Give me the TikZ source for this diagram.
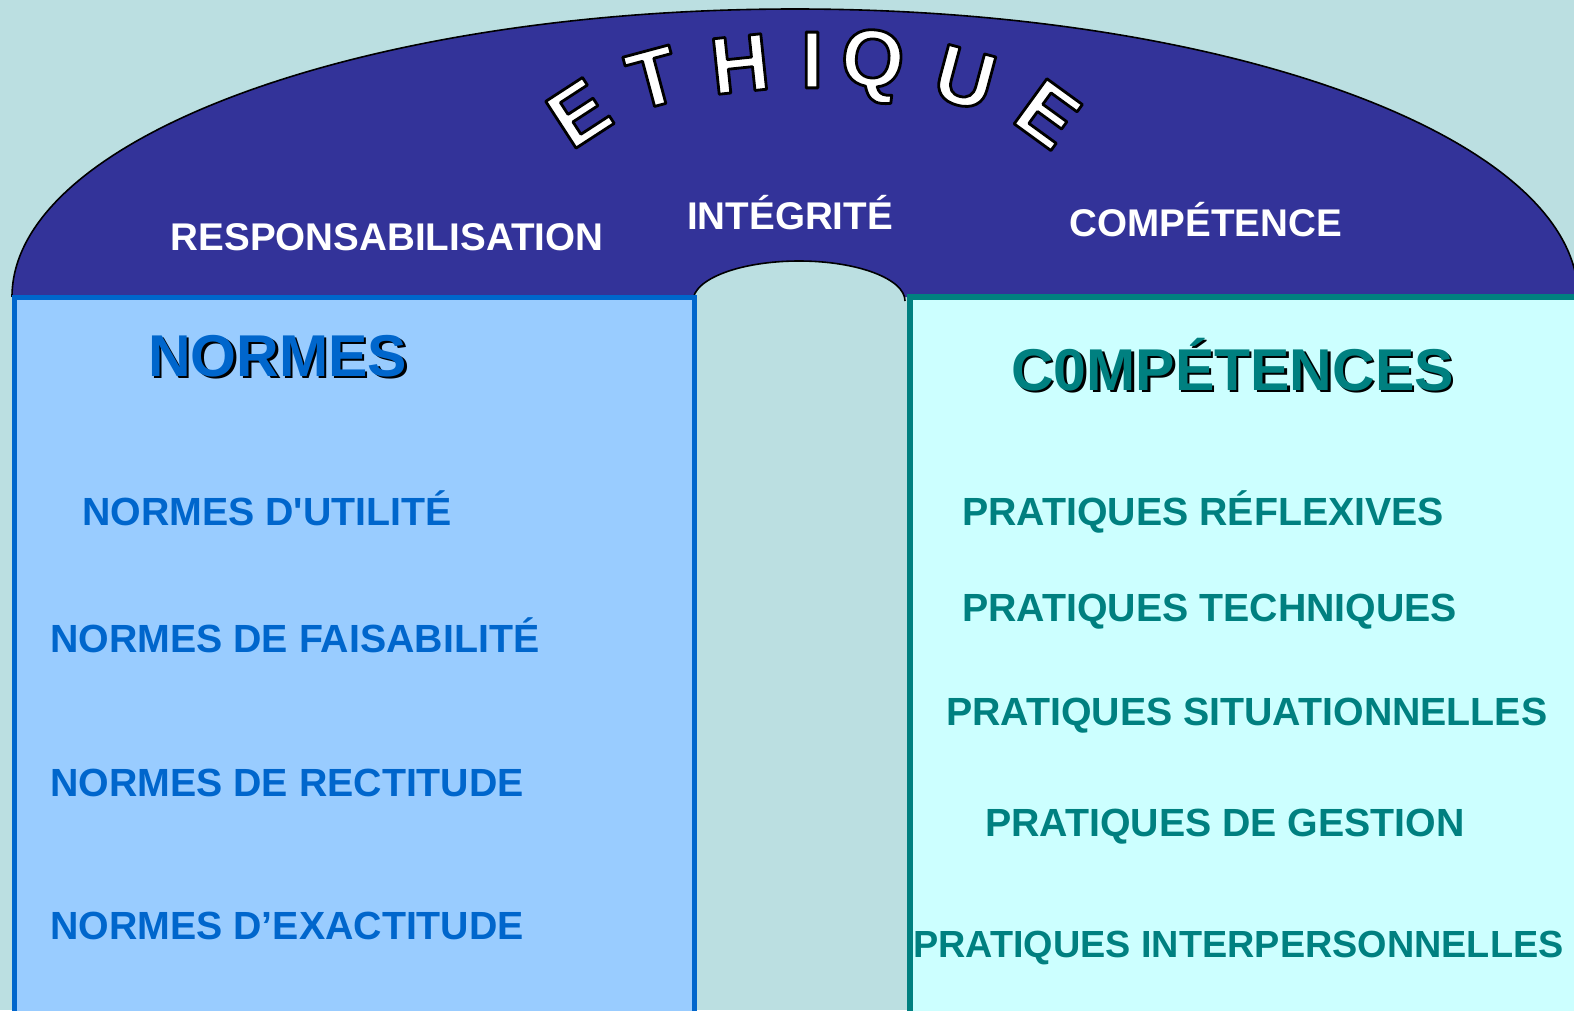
\documentclass[tikz,border=0pt]{standalone}
\usepackage{fontspec}
\setmainfont{Liberation Sans}[Ligatures=TeXOff]
\definecolor{bgc}{HTML}{BBDFE1}
\definecolor{domec}{HTML}{333399}
\definecolor{nfill}{HTML}{99CCFF}
\definecolor{nblue}{HTML}{0066CC}
\definecolor{cfill}{HTML}{CCFFFF}
\definecolor{cteal}{HTML}{008080}
\newcommand\olt[1]{\special{pdf:code q 2 Tr 0 G 2.8 w 1 j}#1\special{pdf:code Q}}
\newcommand\shad[1]{\leavevmode\rlap{\textcolor{black}{\kern2.5pt\raisebox{-2.5pt}{#1}}}#1}
\begin{document}
\begin{tikzpicture}[x=1pt,y=-1pt,
  lettr/.style={text=white,inner sep=0pt,font=\fontsize{81}{81}\selectfont\bfseries},
  hdr/.style={text=white,inner sep=0pt,anchor=base,font=\fontsize{38.6}{38.6}\selectfont\bfseries},
  itemL/.style={text=nblue,inner sep=0pt,anchor=base west,font=\fontsize{39.3}{39.3}\selectfont\bfseries},
  itemR/.style={text=cteal,inner sep=0pt,anchor=base west,font=\fontsize{39.3}{39.3}\selectfont\bfseries},
  ttl/.style={inner sep=0pt,anchor=base west,font=\fontsize{59}{59}\selectfont\bfseries}]
\useasboundingbox (0,0) rectangle (1574,1010);
\clip (0,0) rectangle (1574,1010);
\fill[bgc] (0,0) rectangle (1574,1010);
% dome
\fill[domec] (12,297) arc[start angle=180,end angle=0,x radius=783pt,y radius=288pt] -- cycle;
\draw[line width=1.6pt] (12,297) arc[start angle=180,end angle=0,x radius=783pt,y radius=288pt];
% inner arch
\fill[bgc] (693,301) arc[start angle=180,end angle=0,x radius=106pt,y radius=40pt] -- cycle;
\draw[line width=1.6pt] (693,301) arc[start angle=180,end angle=0,x radius=106pt,y radius=40pt];
% panels
\draw[line width=5pt,draw=nblue,fill=nfill] (14.5,297) rectangle (694.5,1016);
\draw[line width=6pt,draw=cteal,fill=cfill] (910,297) rectangle (1590,1016);
% ETHIQUE
\node[lettr,rotate=33] (e1) at (579,113) {\olt{E}};
\node[lettr,rotate=15] (t1) at (653,78) {\olt{T}};
\node[lettr,rotate=6] (h1) at (740,64) {\olt{H}};
\node[lettr] (i1) at (812,60) {\olt{I}};
\node[lettr,rotate=-6] (q1) at (872,66) {\olt{Q}};
\node[lettr,rotate=-15] (u1) at (965,78) {\olt{U}};
\node[lettr,rotate=-36] (e2) at (1048,114) {\olt{E}};
% headers
\node[hdr] (resp) at (387,250) {RESPONSABILISATION};
\node[hdr] (integ) at (790,229) {INTÉGRITÉ};
\node[hdr] (compe) at (1206,236) {COMPÉTENCE};
% titles
\node[ttl,text=nblue] (normes) at (148,376) {\shad{NORMES}};
\node[ttl,text=cteal] (competences) at (1011,390) {\shad{C0MPÉTENCES}};
% left items
\node[itemL] (n1) at (82,525) {NORMES D'UTILITÉ};
\node[itemL] (n2) at (50,652) {NORMES DE FAISABILITÉ};
\node[itemL] (n3) at (50,796) {NORMES DE RECTITUDE};
\node[itemL] (n4) at (50,939) {NORMES D’EXACTITUDE};
% right items
\node[itemR] (p1) at (962,525) {PRATIQUES RÉFLEXIVES};
\node[itemR] (p2) at (962,621) {PRATIQUES TECHNIQUES};
\node[itemR] (p3) at (946,725) {PRATIQUES SITUATIONNELLES};
\node[itemR] (p4) at (985,836) {PRATIQUES DE GESTION};
\node[itemR,font=\fontsize{37.8}{37.8}\selectfont\bfseries] (p5) at (913,957) {PRATIQUES INTERPERSONNELLES};
\end{tikzpicture}
\end{document}
